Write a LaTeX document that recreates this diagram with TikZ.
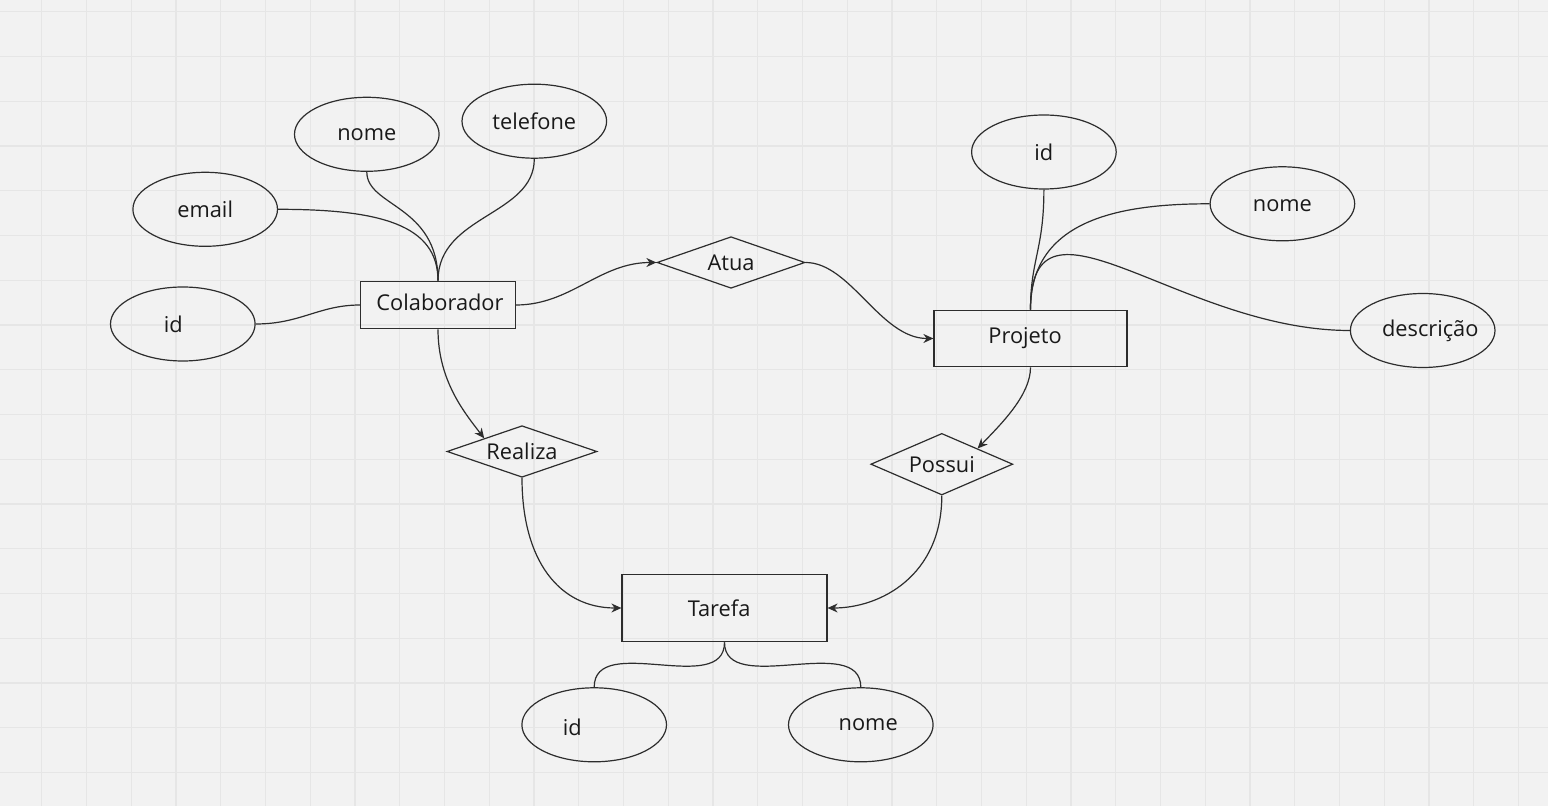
\documentclass[tikz,border=0pt]{standalone}
\usepackage{fontspec}
\setmainfont{Open Sans}
\usetikzlibrary{shapes.geometric,arrows.meta}
\definecolor{board}{RGB}{242,242,242}
\definecolor{gridgray}{RGB}{230,230,230}
\definecolor{ink}{RGB}{45,45,45}
\definecolor{textink}{RGB}{25,25,25}

\begin{document}
\begin{tikzpicture}[x=0.5pt, y=-0.5pt,
        font=\fontsize{10.9pt}{13pt}\selectfont, text=textink,
        entity/.style={draw=ink, line width=0.6pt, inner sep=0pt},
        attr/.style={draw=ink, line width=0.6pt, ellipse, inner sep=0pt,
            minimum width=72.3pt, minimum height=37pt},
        rel/.style={draw=ink, line width=0.6pt, diamond, aspect=3, inner sep=0pt},
        link/.style={draw=ink, line width=0.6pt},
        arr/.style={link, -{Stealth[length=5pt, width=4.5pt]}},
        gridline/.style={draw=gridgray, line width=0.6pt}]
    \fill[board] (0,0) rectangle (1548,806);
    \clip (0,0) rectangle (1548,806);
    \foreach \gx in {0,...,33}
        \draw[gridline] ({41.7+44.75*\gx},0) -- ({41.7+44.75*\gx},806);
    \foreach \gy in {0,...,17}
        \draw[gridline] (0,{11.7+44.75*\gy}) -- (1548,{11.7+44.75*\gy});

    \node[entity, minimum width=77.3pt, minimum height=23.7pt,
        label={[xshift=1pt, yshift=1.2pt]center:Colaborador}] (col) at (438,305) {};
    \node[entity, minimum width=96.5pt, minimum height=28.3pt,
        label={[xshift=-2.7pt]center:Projeto}] (proj) at (1030.5,338.5) {};
    \node[entity, minimum width=102.5pt, minimum height=33.7pt,
        label={[xshift=-2.7pt]center:Tarefa}] (tar) at (724.5,608) {};

    \node[rel, minimum width=74pt, minimum height=25.8pt] (atua) at (731,262.5) {Atua};
    \node[rel, minimum width=75pt, minimum height=25.8pt] (real) at (522,451.5) {Realiza};
    \node[rel, minimum width=71pt, minimum height=30.8pt] (pos) at (941.8,464.2) {Possui};

    \node[attr] (email) at (205.2,209.3) {email};
    \node[attr] (cnome) at (366.8,134.3) {nome};
    \node[attr] (tel) at (534.3,121.2) {telefone};
    \node[attr, label={[xshift=-4.8pt]center:id}] (cid) at (182.8,324) {};
    \node[attr] (pid) at (1043.9,152) {id};
    \node[attr, label={[yshift=-1pt]center:nome}] (pnome) at (1282.4,203.8) {};
    \node[attr, label={[xshift=3.8pt]center:descrição}] (desc) at (1422.7,330.5) {};
    \node[attr, label={[xshift=-11pt, yshift=-1.5pt]center:id}] (tid) at (594.2,724.8) {};
    \node[attr, label={[xshift=3.7pt]center:nome}] (tnome) at (860.8,724.8) {};

    \draw[link] (email.east) .. controls +(102,0) and +(0,-56) .. (col.north);
    \draw[link] (cnome.south) .. controls +(0,35) and +(0,-76) .. (col.north);
    \draw[link] (tel.south) .. controls +(0,57) and +(0,-66) .. (col.north);
    \draw[link] (cid.east) .. controls +(45,0) and +(-41,0) .. (col.west);

    \draw[arr] (col.east) .. controls +(55,0) and +(-57,0) .. (atua.west);
    \draw[arr] (atua.east) .. controls +(45,0) and +(-53,0) .. (proj.west);
    \draw[arr] (col.south) .. controls +(0,51) and +(-20,-26) .. (real.north west);
    \draw[arr] (proj.south) .. controls +(0,28) and +(23,-24) .. (pos.north east);
    \draw[arr] (real.south) .. controls +(0,83) and +(-62,0) .. (tar.west);
    \draw[arr] (pos.south) .. controls +(0,80) and +(53,0) .. (tar.east);

    \draw[link] (proj.north) .. controls +(0,-50) and +(0,60) .. (pid.south);
    \draw[link] (proj.north) .. controls +(0,-90) and +(-90,0) .. (pnome.west);
    \draw[link] (proj.north) .. controls +(0,-135) and +(-170,0) .. (desc.west);

    \draw[link] (tar.south) .. controls +(0,55) and +(0,-55) .. (tid.north);
    \draw[link] (tar.south) .. controls +(0,55) and +(0,-55) .. (tnome.north);
\end{tikzpicture}
\end{document}
